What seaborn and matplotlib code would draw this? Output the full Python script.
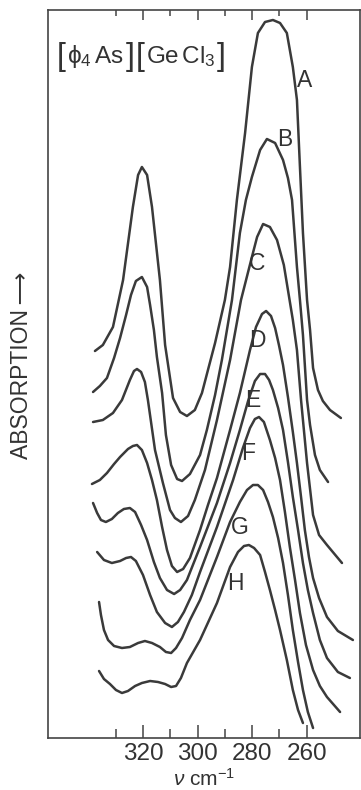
import numpy as np
import pandas as pd
import matplotlib
matplotlib.use("Agg")
import matplotlib.pyplot as plt
import seaborn as sns
from matplotlib.offsetbox import TextArea, HPacker, AnnotationBbox

# ---- data (wavenumber in cm^-1, absorption in arbitrary offset units) ----
nu_A = [337.6, 334.7, 331.0, 327.3, 323.7, 321.8, 320.4, 318.5, 316.7, 313.8, 311.9, 309.0, 306.4, 303.9,
        301.0, 298.4, 296.2, 293.6, 290.0, 288.1, 285.6, 282.6, 280.1, 277.9, 275.3, 272.4, 269.8, 267.3,
        265.1, 263.6, 262.5, 261.4, 259.9, 258.8, 257.7, 255.9, 254.1, 251.5, 247.5]
abs_A = [3.87, 3.93, 4.11, 4.58, 5.31, 5.63, 5.71, 5.63, 5.31, 4.58, 3.93, 3.40, 3.26, 3.22,
         3.28, 3.45, 3.68, 3.95, 4.38, 4.71, 5.38, 6.05, 6.71, 7.05, 7.16, 7.18, 7.15, 7.05,
         6.71, 6.38, 5.71, 5.05, 4.38, 4.08, 3.70, 3.48, 3.37, 3.28, 3.20]

nu_B = [338.3, 335.8, 333.2, 330.6, 328.4, 326.2, 324.4, 322.6, 320.4, 318.5, 317.4, 316.0, 314.9, 313.0,
        311.6, 309.7, 307.5, 305.7, 302.8, 299.1, 296.6, 293.6, 291.1, 287.4, 284.5, 282.3, 280.1, 277.1,
        274.6, 271.6, 268.7, 266.9, 265.4, 263.6, 262.5, 261.4, 259.9, 258.8, 257.0, 255.2, 252.2]
abs_B = [3.46, 3.52, 3.60, 3.80, 4.00, 4.23, 4.43, 4.57, 4.61, 4.51, 4.33, 4.08, 3.81, 3.45,
         3.03, 2.73, 2.59, 2.57, 2.64, 2.83, 3.08, 3.43, 3.78, 4.38, 5.05, 5.38, 5.61, 5.88,
         5.99, 5.95, 5.78, 5.60, 5.38, 4.71, 4.38, 4.03, 3.38, 3.13, 2.83, 2.68, 2.56]

nu_C = [338.3, 334.7, 331.0, 327.7, 324.8, 323.3, 322.2, 320.7, 319.3, 318.2, 315.6, 312.7, 310.1, 308.3,
        306.1, 303.5, 301.0, 297.3, 292.9, 288.1, 284.1, 280.1, 278.2, 276.0, 273.5, 270.9, 268.4, 266.9,
        265.1, 263.6, 262.1, 259.9, 257.7, 255.5, 252.6, 247.1]
abs_C = [3.16, 3.18, 3.25, 3.38, 3.58, 3.67, 3.69, 3.66, 3.56, 3.38, 2.88, 2.55, 2.28, 2.20,
         2.16, 2.22, 2.38, 2.68, 3.18, 3.78, 4.38, 4.81, 5.01, 5.14, 5.11, 4.98, 4.73, 4.48,
         4.18, 3.88, 3.38, 2.75, 2.23, 2.03, 1.93, 1.75]

nu_D = [338.7, 335.8, 333.2, 330.6, 328.4, 325.5, 323.7, 322.2, 320.4, 318.5, 316.7, 314.9, 313.0, 311.2,
        309.4, 307.5, 305.3, 302.8, 299.1, 296.2, 292.9, 288.1, 284.5, 280.8, 278.6, 276.4, 274.9, 273.1,
        271.6, 270.2, 268.7, 266.9, 265.1, 263.6, 262.1, 260.7, 259.2, 257.7, 255.5, 252.6, 248.6, 243.1]
abs_D = [2.54, 2.58, 2.65, 2.74, 2.81, 2.89, 2.92, 2.93, 2.88, 2.75, 2.58, 2.38, 2.11, 1.88,
         1.72, 1.66, 1.69, 1.80, 2.08, 2.33, 2.60, 3.08, 3.45, 3.88, 4.11, 4.24, 4.27, 4.22,
         4.10, 3.93, 3.73, 3.41, 3.06, 2.75, 2.41, 2.08, 1.81, 1.60, 1.40, 1.21, 1.07, 0.98]

nu_E = [338.3, 336.8, 335.4, 333.6, 331.4, 329.2, 327.0, 324.8, 322.9, 320.7, 318.5, 316.0, 313.8, 311.2,
        308.6, 306.4, 303.9, 299.1, 292.9, 288.1, 284.5, 281.5, 279.0, 277.1, 275.3, 273.8, 272.4, 270.5,
        268.7, 266.9, 265.1, 263.2, 261.4, 259.6, 257.7, 255.2, 252.6, 248.6, 244.2]
abs_E = [2.35, 2.25, 2.18, 2.16, 2.19, 2.25, 2.29, 2.30, 2.26, 2.13, 1.98, 1.76, 1.60, 1.48,
         1.44, 1.48, 1.58, 1.91, 2.35, 2.75, 3.08, 3.37, 3.57, 3.64, 3.64, 3.58, 3.48, 3.30,
         3.08, 2.76, 2.41, 2.08, 1.75, 1.48, 1.25, 0.98, 0.80, 0.66, 0.60]

nu_F = [336.8, 334.3, 331.4, 328.4, 326.2, 324.4, 322.6, 320.0, 317.4, 314.9, 311.9, 309.4, 307.2, 305.0,
        302.1, 299.1, 292.9, 287.0, 283.4, 280.8, 279.0, 277.5, 275.7, 273.5, 271.6, 269.8, 268.0, 266.2,
        264.3, 262.5, 260.3, 257.7, 255.2, 252.6, 247.8]
abs_F = [1.86, 1.78, 1.75, 1.77, 1.80, 1.81, 1.77, 1.63, 1.43, 1.26, 1.15, 1.11, 1.16, 1.26,
         1.43, 1.66, 2.11, 2.58, 2.90, 3.10, 3.19, 3.21, 3.16, 2.98, 2.80, 2.58, 2.26, 1.91,
         1.58, 1.25, 0.93, 0.68, 0.52, 0.41, 0.26]

nu_G = [336.1, 335.4, 334.3, 332.8, 330.6, 327.7, 324.8, 321.8, 319.3, 316.7, 313.8, 311.6, 309.7, 307.9,
        305.7, 302.8, 299.1, 292.9, 288.1, 284.5, 281.9, 279.7, 277.9, 276.0, 274.2, 272.4, 270.5, 268.7,
        266.9, 265.1, 263.2, 261.4, 259.6, 257.7]
abs_G = [1.36, 1.23, 1.08, 0.98, 0.92, 0.90, 0.91, 0.95, 0.97, 0.95, 0.91, 0.86, 0.85, 0.90,
         1.00, 1.18, 1.38, 1.81, 2.16, 2.36, 2.48, 2.53, 2.53, 2.48, 2.36, 2.21, 2.00, 1.75,
         1.43, 1.08, 0.76, 0.48, 0.26, 0.10]

nu_H = [336.1, 334.3, 332.1, 329.9, 327.7, 325.5, 322.9, 320.4, 317.4, 314.5, 311.9, 309.7, 307.9, 306.1,
        303.9, 299.1, 292.9, 288.1, 285.2, 283.0, 281.2, 279.3, 277.1, 275.3, 273.5, 271.6, 269.8, 267.3,
        265.1, 263.2, 261.4]
abs_H = [0.67, 0.59, 0.54, 0.48, 0.45, 0.47, 0.52, 0.55, 0.57, 0.56, 0.54, 0.51, 0.52, 0.60,
         0.75, 0.98, 1.35, 1.71, 1.86, 1.92, 1.93, 1.90, 1.83, 1.66, 1.48, 1.28, 1.08, 0.78,
         0.48, 0.28, 0.15]

spectra = ["A", "B", "C", "D", "E", "F", "G", "H"]
label_nu = [260.7, 268.0, 278.2, 278.2, 279.7, 281.5, 284.5, 286.3]
label_abs = [6.58, 5.98, 4.75, 3.98, 3.38, 2.85, 2.11, 1.55]

major_ticks = [320, 300, 280, 260]
minor_ticks = [330, 310, 290, 270]
tick_labels = ["320", "300", "280", "260"]

# ---- build long table ----
series = {"A": (nu_A, abs_A), "B": (nu_B, abs_B), "C": (nu_C, abs_C), "D": (nu_D, abs_D),
          "E": (nu_E, abs_E), "F": (nu_F, abs_F), "G": (nu_G, abs_G), "H": (nu_H, abs_H)}
frames = []
for name in spectra:
    nu, ab = series[name]
    frames.append(pd.DataFrame({"wavenumber": nu, "absorption": ab, "spectrum": name}))
df = pd.concat(frames, ignore_index=True)

# ---- style ----
sns.set_style("white")
plt.rcParams["font.family"] = ["Liberation Sans", "DejaVu Sans"]
plt.rcParams["mathtext.fontset"] = "custom"
plt.rcParams["mathtext.rm"] = "Liberation Sans"
plt.rcParams["mathtext.it"] = "Liberation Sans:italic"
plt.rcParams["mathtext.bf"] = "Liberation Sans:bold"

ink = "#3a3a3a"
txt = "#333333"

fig = plt.figure(figsize=(3.61, 7.90), dpi=100)
ax = fig.add_axes([48 / 361, 52 / 790, 312 / 361, 728 / 790])

sns.lineplot(data=df, x="wavenumber", y="absorption", units="spectrum", estimator=None,
             sort=False, color=ink, linewidth=1.8, ax=ax, legend=False)
for line in ax.get_lines():
    line.set_solid_joinstyle("round")
    line.set_solid_capstyle("round")

ax.set_xlim(354.8, 240.5)
ax.set_ylim(0, 7.28)

for s in ax.spines.values():
    s.set_color("#444444")
    s.set_linewidth(1.2)

ax.set_yticks([])
ax.set_xticks(major_ticks)
ax.set_xticklabels(tick_labels)
ax.set_xticks(minor_ticks, minor=True)
ax.tick_params(axis="x", which="major", direction="in", length=9.5, width=1.1, color="#444444",
               labelsize=17.5, labelcolor=txt, pad=3.5, bottom=True, top=False)
ax.tick_params(axis="x", which="minor", direction="in", length=6.3, width=1.1, color="#444444",
               bottom=True, top=False)

top = ax.secondary_xaxis("top")
top.set_xticks(major_ticks)
top.set_xticks(minor_ticks, minor=True)
top.tick_params(axis="x", which="major", direction="in", length=7.5, width=1.1, color="#444444",
                labeltop=False)
top.tick_params(axis="x", which="minor", direction="in", length=4.3, width=1.1, color="#444444")
top.spines["top"].set_visible(False)

ax.set_xlabel("")
ax.set_ylabel("")

for name, lx, ly in zip(spectra, label_nu, label_abs):
    ax.text(lx, ly, name, ha="center", va="center", fontsize=16.5, color=txt)

# compound title with tall brackets
br = dict(fontsize=23, color=txt, fontweight="light")
body = dict(fontsize=17.5, color=txt)
parts = [TextArea("[", textprops=br),
         TextArea(r"$\mathrm{\phi_4\,As}$", textprops=body),
         TextArea("]", textprops=br),
         TextArea("[", textprops=br),
         TextArea(r"$\mathrm{Ge\,Cl_3}$", textprops=body),
         TextArea("]", textprops=br)]
pack = HPacker(children=parts, align="center", pad=0, sep=1)
ab = AnnotationBbox(pack, (57 / 361, 1 - 57 / 790), xycoords="figure fraction",
                    box_alignment=(0, 0.5), frameon=False, pad=0)
ax.add_artist(ab)

fig.text(22 / 361, 1 - 365 / 790, "ABSORPTION\u2009\u27f6", rotation=90, ha="center", va="center",
         fontsize=16.5, color=txt, family=["Liberation Sans", "DejaVu Sans"])
fig.text(204 / 361, 0.0, r"$\nu$ cm$^{-1}$", ha="center", va="bottom",
         fontsize=15, color=txt)

fig.savefig("out.png", dpi=100)
